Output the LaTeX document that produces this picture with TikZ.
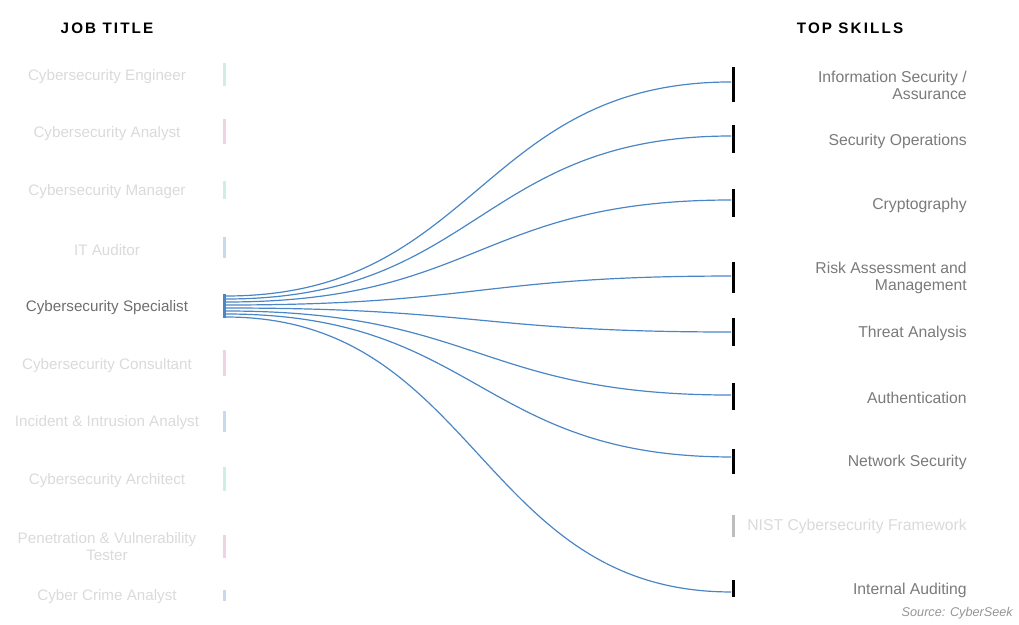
\documentclass[tikz,border=0pt]{standalone}
\usepackage{fontspec}
\setmainfont{Liberation Sans}
\definecolor{flowblue}{HTML}{4A86C6}
\definecolor{fadetext}{HTML}{DADADA}
\definecolor{maintext}{HTML}{6E6E6E}
\definecolor{skilltext}{HTML}{7A7A7A}
\definecolor{barteal}{HTML}{CFEFE4}
\definecolor{barpink}{HTML}{EDD3E3}
\definecolor{barblue}{HTML}{C8D8EF}
\definecolor{bargray}{HTML}{BDBDBD}

\begin{document}
\begin{tikzpicture}[%
      x=0.75pt, y=-0.75pt,
      job/.style={align=center, text=fadetext, inner sep=0pt, font=\fontsize{11.4}{12.75}\selectfont},
      skill/.style={anchor=east, align=right, inner sep=0pt, text=skilltext, font=\fontsize{11.8}{12.75}\selectfont},
      head/.style={font=\bfseries\fontsize{11.4}{12}\selectfont\addfontfeatures{LetterSpace=14}},
      jbar/.style={inner sep=0pt, minimum width=2.25pt},
      sbar/.style={inner sep=0pt, minimum width=2.25pt, fill=black},
      flow/.style={color=flowblue, line width=0.9pt},
      ]
      \useasboundingbox (0,0) rectangle (1019,624);

      % headings
      \node[head] (jobhead) at (107,28) {JOB TITLE};
      \node[head] (skillhead) at (850,28) {TOP SKILLS};

      % job titles
      \node[job] (j1) at (107,77) {Cybersecurity Engineer};
      \node[job] (j2) at (107,134) {Cybersecurity Analyst};
      \node[job] (j3) at (107,192) {Cybersecurity Manager};
      \node[job] (j4) at (107,250) {IT Auditor};
      \node[job, text=maintext] (j5) at (107,308) {Cybersecurity Specialist};
      \node[job] (j6) at (107,366) {Cybersecurity Consultant};
      \node[job] (j7) at (107,423) {Incident \& Intrusion Analyst};
      \node[job] (j8) at (107,481) {Cybersecurity Architect};
      \node[job] (j9) at (107,547) {Penetration \& Vulnerability\\Tester};
      \node[job] (j10) at (107,597) {Cyber Crime Analyst};

      % job bars
      \node[jbar, fill=barteal, minimum height=17.25pt] (b1) at (224,74.5) {};
      \node[jbar, fill=barpink, minimum height=18.75pt] (b2) at (224,131.5) {};
      \node[jbar, fill=barteal, minimum height=13.5pt] (b3) at (224,190) {};
      \node[jbar, fill=barblue, minimum height=15.75pt] (b4) at (224,247.5) {};
      \node[jbar, fill=flowblue, minimum height=18pt] (b5) at (224,306) {};
      \node[jbar, fill=barpink, minimum height=19.5pt] (b6) at (224,363) {};
      \node[jbar, fill=barblue, minimum height=15.75pt] (b7) at (224,421.5) {};
      \node[jbar, fill=barteal, minimum height=18pt] (b8) at (224,479) {};
      \node[jbar, fill=barpink, minimum height=17.25pt] (b9) at (224,546.5) {};
      \node[jbar, fill=barblue, minimum height=8.25pt] (b10) at (224,595.5) {};

      % skills
      \node[skill] (s1) at (967,85.5) {Information Security /\\Assurance};
      \node[skill] (s2) at (967,141) {Security Operations};
      \node[skill] (s3) at (967,205) {Cryptography};
      \node[skill] (s4) at (967,277.5) {Risk Assessment and\\Management};
      \node[skill] (s5) at (967,333) {Threat Analysis};
      \node[skill] (s6) at (967,398) {Authentication};
      \node[skill] (s7) at (967,462) {Network Security};
      \node[skill, text=fadetext] (s8) at (967,526) {NIST Cybersecurity Framework};
      \node[skill] (s9) at (967,590) {Internal Auditing};

      % skill bars
      \node[sbar, minimum height=26.25pt] (k1) at (733,84.5) {};
      \node[sbar, minimum height=21pt] (k2) at (733,139) {};
      \node[sbar, minimum height=21pt] (k3) at (733,203) {};
      \node[sbar, minimum height=23.25pt] (k4) at (733,277.5) {};
      \node[sbar, minimum height=21pt] (k5) at (733,332) {};
      \node[sbar, minimum height=20.25pt] (k6) at (733,396.5) {};
      \node[sbar, minimum height=18.75pt] (k7) at (733,461.5) {};
      \node[sbar, fill=bargray, minimum height=16.5pt] (k8) at (733,526) {};
      \node[sbar, minimum height=12.75pt] (k9) at (733,588.5) {};

      % flows
      \draw[flow] ([yshift=7.5pt]b5.east) .. controls +(252,0) and +(-252,0) .. ([yshift=1.9pt]k1.west);
      \draw[flow] ([yshift=5.25pt]b5.east) .. controls +(252,0) and +(-252,0) .. ([yshift=2.25pt]k2.west);
      \draw[flow] ([yshift=3pt]b5.east) .. controls +(252,0) and +(-252,0) .. ([yshift=2.25pt]k3.west);
      \draw[flow] ([yshift=0.75pt]b5.east) .. controls +(252,0) and +(-252,0) .. ([yshift=1.1pt]k4.west);
      \draw[flow] ([yshift=-1.5pt]b5.east) .. controls +(252,0) and +(-252,0) .. (k5.west);
      \draw[flow] ([yshift=-3.75pt]b5.east) .. controls +(252,0) and +(-252,0) .. ([yshift=1.1pt]k6.west);
      \draw[flow] ([yshift=-6pt]b5.east) .. controls +(252,0) and +(-252,0) .. ([yshift=3.4pt]k7.west);
      \draw[flow] ([yshift=-8.25pt]b5.east) .. controls +(252,0) and +(-252,0) .. ([yshift=-2.6pt]k9.west);

      \node[anchor=east, inner sep=0pt, text=skilltext!80, font=\itshape\fontsize{9.5}{11}\selectfont] (src) at (1013,613) {Source: CyberSeek};
      \end{tikzpicture}
\end{document}
